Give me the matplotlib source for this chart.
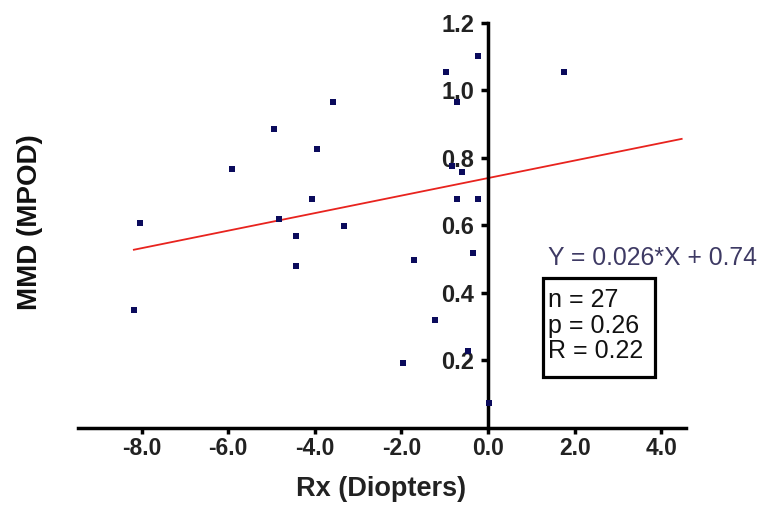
import matplotlib
matplotlib.use("Agg")
import matplotlib.pyplot as plt
from matplotlib.patches import Rectangle
import numpy as np

plt.rcParams['font.family'] = ['Liberation Sans', 'DejaVu Sans']

rx = [-8.18, -8.04, -5.91, -4.94, -3.58, -3.95, -4.83, -4.06, -4.43, -4.43,
      -3.33, -1.71, -1.96, -1.22, -0.97, -0.23, -0.72, -0.83, -0.60, -0.72,
      -0.23, -0.35, -0.46, 0.02, 1.76]
mmd = [0.349, 0.607, 0.767, 0.886, 0.966, 0.826, 0.619, 0.678, 0.568, 0.479,
       0.598, 0.497, 0.191, 0.319, 1.055, 1.102, 0.967, 0.776, 0.758, 0.678,
       0.678, 0.518, 0.227, 0.073, 1.055]
slope = 0.026
intercept = 0.74
fit_x = [-8.18, 4.47]
xticks = [-8.0, -6.0, -4.0, -2.0, 0.0, 2.0, 4.0]
yticks = [0.2, 0.4, 0.6, 0.8, 1.0, 1.2]
equation = "Y = 0.026*X + 0.74"
stats = ["n = 27", "p = 0.26", "R = 0.22"]

W, H = 763, 509
fig = plt.figure(figsize=(W/100, H/100), dpi=100)
ax = fig.add_axes([78/W, (H-427.5)/H, 608/W, 404.5/H])
ax.set_xlim(-9.47, 4.57)
ax.set_ylim(0, 1.2)

ax.scatter(rx, mmd, marker='s', s=22, color='#0b0b5c', zorder=3, linewidths=0)
fx = np.array(fit_x)
ax.plot(fx, slope*fx + intercept, color='#e8231e', lw=1.3, zorder=2)

for s in ['top', 'right']:
    ax.spines[s].set_visible(False)
ax.spines['left'].set_position(('data', 0))
ax.spines['bottom'].set_position(('data', 0))
ax.spines['left'].set_linewidth(2.5)
ax.spines['bottom'].set_linewidth(2.5)
ax.spines['left'].set_bounds(0, 1.2)

ax.set_xticks(xticks)
ax.set_xticklabels([f"{v:.1f}" for v in xticks], fontsize=16.5, fontweight='bold', color='#222222')
ax.set_yticks(yticks)
ax.set_yticklabels([f"{v:.1f}" for v in yticks], fontsize=17, fontweight='bold', color='#222222')
ax.tick_params(axis='x', direction='out', length=4.5, width=2.5, pad=2)
ax.tick_params(axis='y', direction='out', length=5, width=2.5, pad=5)

fig.text(30/W, 1 - 222/H, "MMD (MPOD)", rotation=90, ha='center', va='center',
         fontsize=20, fontweight='bold', color='#111111')
fig.text(381/W, 1 - 489/H, "Rx (Diopters)", ha='center', va='center',
         fontsize=19.5, fontweight='bold', color='#222222')

fig.text(548/W, 1 - 265/H, equation, ha='left', va='baseline', fontsize=17.8,
         color='#3e3a64')

fig.patches.append(Rectangle((543/W, 1 - 377/H), 112/W, 99/H, transform=fig.transFigure,
                             facecolor='white', edgecolor='black', linewidth=2.3, zorder=4))
for i, line in enumerate(stats):
    fig.text(548/W, 1 - (307 + 25.5*i)/H, line, ha='left', va='baseline', fontsize=18,
             color='#111111', zorder=5)

fig.savefig("out.png", dpi=100)
